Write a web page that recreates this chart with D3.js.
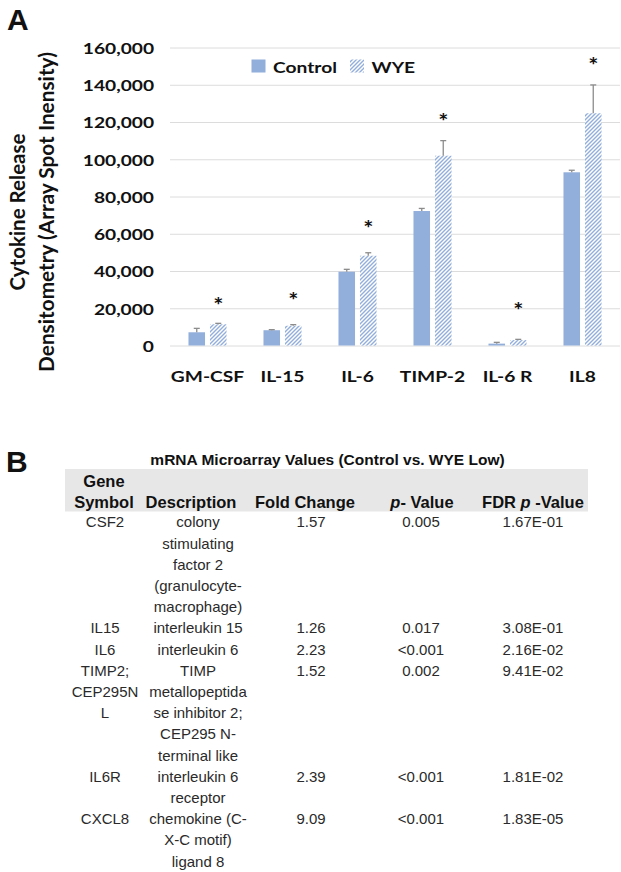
<!DOCTYPE html>
<html><head><meta charset="utf-8">
<script src="https://cdn.jsdelivr.net/npm/d3@7"></script>
<style>
body{margin:0;background:#fff}
svg{display:block}
</style>
</head><body>
<svg id="fig" width="621" height="872"></svg>
<script>
// ---------- Panel A data ----------
const categories = ["GM-CSF", "IL-15", "IL-6", "TIMP-2", "IL-6 R", "IL8"];
const seriesNames = ["Control", "WYE"];
const controlValues = [7100, 8200, 39600, 72200, 1000, 93000];
const controlErrors = [2100, 300, 1300, 1400, 700, 1100];
const wyeValues = [11400, 10600, 48200, 101900, 2900, 124700];
const wyeErrors = [500, 600, 1600, 8100, 400, 15200];
const significanceMarks = ["*", "*", "*", "*", "*", "*"];
const significanceAt = [23400, 26000, 64700, 122100, 20800, 152400];
const yTicks = [0, 20000, 40000, 60000, 80000, 100000, 120000, 140000, 160000];
const yTitleLines = ["Cytokine Release", "Densitometry (Array Spot Inensity)"];

// ---------- Panel B data ----------
const tableTitle = "mRNA Microarray Values (Control vs. WYE Low)";
const geneSymbols = [["CSF2"], ["IL15"], ["IL6"], ["TIMP2;", "CEP295N", "L"], ["IL6R"], ["CXCL8"]];
const descriptions = [
  ["colony", "stimulating", "factor 2", "(granulocyte-", "macrophage)"],
  ["interleukin 15"],
  ["interleukin 6"],
  ["TIMP", "metallopeptida", "se inhibitor 2;", "CEP295 N-", "terminal like"],
  ["interleukin 6", "receptor"],
  ["chemokine (C-", "X-C motif)", "ligand 8"]
];
const foldChanges = ["1.57", "1.26", "2.23", "1.52", "2.39", "9.09"];
const pValues = ["0.005", "0.017", "<0.001", "0.002", "<0.001", "<0.001"];
const fdrPValues = ["1.67E-01", "3.08E-01", "2.16E-02", "9.41E-02", "1.81E-02", "1.83E-05"];

// ---------- styles ----------
const barColor = "#92aedb";
const errColor = "#8c8c8c";
const gridColor = "#dcdcdc";
const chartFont = "Lato, 'Open Sans', sans-serif";
const tableFont = "'Liberation Sans', Arial, sans-serif";
const SX = 1.2; // horizontal stretch of panel A lettering

const svg = d3.select("#fig");

const defs = svg.append("defs");
const pat = defs.append("pattern").attr("id", "hatch")
  .attr("patternUnits", "userSpaceOnUse").attr("width", 4).attr("height", 4);
pat.append("rect").attr("width", 4).attr("height", 4).attr("fill", "#fff");
pat.append("path").attr("d", "M-1,1 l2,-2 M0,4 l4,-4 M3,5 l2,-2")
  .attr("stroke", barColor).attr("stroke-width", 1.4);

// ---------- Panel labels ----------
svg.append("text").attr("x", 7).attr("y", 30).text("A")
  .attr("font-family", tableFont).attr("font-weight", "bold").attr("font-size", 30).attr("fill", "#111");
svg.append("text").attr("x", 6).attr("y", 472).text("B")
  .attr("font-family", tableFont).attr("font-weight", "bold").attr("font-size", 30).attr("fill", "#111");

// ---------- Panel A ----------
const y = d3.scaleLinear().domain([0, 160000]).range([345.5, 47.5]);
const x0 = d3.scaleBand().domain(categories).range([170, 620]);
const x1 = d3.scaleBand().domain(seriesNames).range([0, x0.bandwidth()])
  .paddingInner(0.23).paddingOuter(0.86);

// gridlines
const grid = svg.append("g").attr("transform", "translate(170,0)")
  .call(d3.axisLeft(y).tickValues(yTicks).tickSize(-450).tickFormat(""));
grid.select(".domain").remove();
grid.selectAll("line").attr("stroke", gridColor).attr("stroke-width", 1);

// y tick labels
const yAx = svg.append("g").attr("transform", "translate(170,0)")
  .call(d3.axisLeft(y).tickValues(yTicks).tickSize(0).tickPadding(16 / SX).tickFormat(d3.format(",")));
yAx.select(".domain").remove();
yAx.selectAll("text")
  .attr("font-family", chartFont).attr("font-weight", "bold").attr("font-size", 16)
  .attr("fill", "#111").attr("dy", "0.36em").attr("transform", `scale(${SX},1)`);

// x labels
const xAx = svg.append("g").attr("transform", `translate(0,${y(0)})`)
  .call(d3.axisBottom(x0).tickSize(0));
xAx.select(".domain").remove();
xAx.selectAll("text")
  .attr("font-family", chartFont).attr("font-weight", "bold").attr("font-size", 16)
  .attr("fill", "#111").attr("y", 36.5).attr("dy", 0).attr("transform", `scale(${SX},1)`)
  .attr("x", 0);

// y title (font size fitted to the span of each line)
const titleSpans = [157, 320];
yTitleLines.forEach((t, i) => {
  const el = svg.append("text")
    .attr("text-anchor", "middle")
    .attr("font-family", chartFont).attr("font-weight", "bold").attr("font-size", 18)
    .attr("fill", "#111").text(t);
  const len = el.node().getComputedTextLength();
  const fs = len > 0 ? 18 * titleSpans[i] / len : 19;
  el.attr("font-size", fs)
    .attr("transform", `translate(${[18, 47][i] + 0.36 * fs},212) rotate(-90)`);
});

// bars
const rows = categories.map((c, i) => ({
  c,
  vals: [
    { s: "Control", v: controlValues[i], e: controlErrors[i] },
    { s: "WYE", v: wyeValues[i], e: wyeErrors[i] }
  ],
  mark: significanceMarks[i], markAt: significanceAt[i]
}));

const groups = svg.append("g").selectAll("g").data(rows).join("g")
  .attr("transform", d => `translate(${x0(d.c)},0)`);

groups.selectAll("rect").data(d => d.vals).join("rect")
  .attr("x", d => x1(d.s)).attr("width", x1.bandwidth())
  .attr("y", d => y(d.v)).attr("height", d => y(0) - y(d.v))
  .attr("fill", d => d.s === "Control" ? barColor : "url(#hatch)");

// error bars (upper half)
const eb = groups.selectAll("g.err").data(d => d.vals).join("g").attr("class", "err")
  .attr("stroke", errColor).attr("stroke-width", 1.3);
eb.append("line")
  .attr("x1", d => x1(d.s) + x1.bandwidth() / 2).attr("x2", d => x1(d.s) + x1.bandwidth() / 2)
  .attr("y1", d => y(d.v)).attr("y2", d => y(d.v + d.e));
eb.append("line")
  .attr("x1", d => x1(d.s) + x1.bandwidth() / 2 - 3).attr("x2", d => x1(d.s) + x1.bandwidth() / 2 + 3)
  .attr("y1", d => y(d.v + d.e)).attr("y2", d => y(d.v + d.e));

// significance marks
groups.append("text")
  .attr("transform", d => `translate(${x1("WYE") + x1.bandwidth() / 2},${y(d.markAt) + 11}) scale(${SX},1)`)
  .attr("text-anchor", "middle")
  .attr("font-family", chartFont).attr("font-weight", "bold").attr("font-size", 20)
  .attr("fill", "#111").text(d => d.mark);

// legend
const legendPos = [{ sx: 251.5, tx: 273 }, { sx: 350, tx: 371.5 }];
seriesNames.forEach((s, i) => {
  svg.append("rect").attr("x", legendPos[i].sx).attr("y", 59.5).attr("width", 14).attr("height", 13)
    .attr("fill", i === 0 ? barColor : "url(#hatch)");
  svg.append("text")
    .attr("transform", `translate(${legendPos[i].tx},72.5) scale(${SX},1)`)
    .attr("font-family", chartFont).attr("font-weight", "bold").attr("font-size", 16)
    .attr("fill", "#111").text(s);
});

// ---------- Panel B table ----------
svg.append("text").attr("x", 327.5).attr("y", 465).attr("text-anchor", "middle")
  .attr("font-family", tableFont).attr("font-weight", "bold").attr("font-size", 15.5)
  .attr("fill", "#111").text(tableTitle);

svg.append("rect").attr("x", 65).attr("y", 469).attr("width", 523).attr("height", 42.5)
  .attr("fill", "#e7e7e7");

const hdr = svg.append("g").attr("font-family", tableFont).attr("font-weight", "bold")
  .attr("font-size", 16.5).attr("fill", "#111").attr("text-anchor", "middle");
hdr.append("text").attr("x", 104).attr("y", 487).text("Gene");
hdr.append("text").attr("x", 104).attr("y", 507.5).text("Symbol");
hdr.append("text").attr("x", 191).attr("y", 507.5).text("Description");
hdr.append("text").attr("x", 305).attr("y", 507.5).text("Fold Change");
const ph = hdr.append("text").attr("x", 422).attr("y", 507.5);
ph.append("tspan").attr("font-style", "italic").text("p");
ph.append("tspan").text("- Value");
const fh = hdr.append("text").attr("x", 533).attr("y", 507.5);
fh.append("tspan").text("FDR ");
fh.append("tspan").attr("font-style", "italic").text("p");
fh.append("tspan").text(" -Value");

const body = svg.append("g").attr("font-family", tableFont).attr("font-size", 15)
  .attr("fill", "#2a2a2a").attr("text-anchor", "middle");
const lineH = 21.2, firstBase = 527.3;
let lineIdx = 0;
geneSymbols.forEach((g, i) => {
  const cols = [
    { x: 105, lines: g },
    { x: 198, lines: descriptions[i] },
    { x: 311, lines: [foldChanges[i]] },
    { x: 421, lines: [pValues[i]] },
    { x: 533, lines: [fdrPValues[i]] }
  ];
  let maxLines = 1;
  cols.forEach(col => {
    col.lines.forEach((t, k) => {
      body.append("text").attr("x", col.x).attr("y", firstBase + (lineIdx + k) * lineH).text(t);
    });
    maxLines = Math.max(maxLines, col.lines.length);
  });
  lineIdx += maxLines;
});
</script>
</body></html>
